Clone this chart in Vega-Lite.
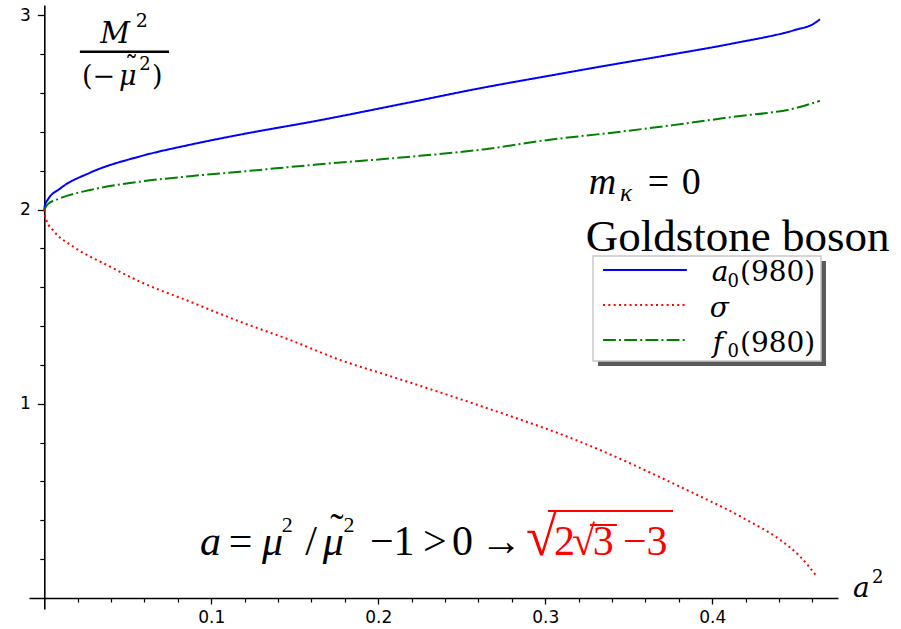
{
  "$schema": "https://vega.github.io/schema/vega-lite/v6.json",
  "width": 809,
  "height": 604,
  "autosize": "none",
  "padding": {"left": 29, "top": 5, "right": 63, "bottom": 20},
  "background": "white",
  "data": {"values": [{}]},
  "config": {
    "view": {"stroke": null},
    "text": {"align": "left", "baseline": "alphabetic", "color": "black"},
    "axis": {"grid": false, "title": null}
  },
  "datasets": {
    "curves": [
      {"series": "a0", "x": 0, "y": 2},
      {"series": "a0", "x": 0.0004, "y": 2.023},
      {"series": "a0", "x": 0.002, "y": 2.05},
      {"series": "a0", "x": 0.0094, "y": 2.108},
      {"series": "a0", "x": 0.0274, "y": 2.19},
      {"series": "a0", "x": 0.0573, "y": 2.274},
      {"series": "a0", "x": 0.0873, "y": 2.334},
      {"series": "a0", "x": 0.1172, "y": 2.386},
      {"series": "a0", "x": 0.163, "y": 2.457},
      {"series": "a0", "x": 0.2159, "y": 2.547},
      {"series": "a0", "x": 0.2628, "y": 2.628},
      {"series": "a0", "x": 0.3028, "y": 2.69},
      {"series": "a0", "x": 0.3389, "y": 2.745},
      {"series": "a0", "x": 0.3765, "y": 2.8},
      {"series": "a0", "x": 0.4126, "y": 2.856},
      {"series": "a0", "x": 0.4495, "y": 2.925},
      {"series": "a0", "x": 0.4603, "y": 2.955},
      {"series": "a0", "x": 0.4645, "y": 2.98},
      {"series": "sigma", "x": 0, "y": 2},
      {"series": "sigma", "x": 0.0004, "y": 1.97},
      {"series": "sigma", "x": 0.0015, "y": 1.94},
      {"series": "sigma", "x": 0.0054, "y": 1.892},
      {"series": "sigma", "x": 0.0174, "y": 1.809},
      {"series": "sigma", "x": 0.0374, "y": 1.715},
      {"series": "sigma", "x": 0.0573, "y": 1.629},
      {"series": "sigma", "x": 0.0873, "y": 1.526},
      {"series": "sigma", "x": 0.1172, "y": 1.423},
      {"series": "sigma", "x": 0.1471, "y": 1.329},
      {"series": "sigma", "x": 0.1771, "y": 1.226},
      {"series": "sigma", "x": 0.207, "y": 1.143},
      {"series": "sigma", "x": 0.2609, "y": 0.99},
      {"series": "sigma", "x": 0.3208, "y": 0.805},
      {"series": "sigma", "x": 0.3807, "y": 0.573},
      {"series": "sigma", "x": 0.4206, "y": 0.402},
      {"series": "sigma", "x": 0.4407, "y": 0.299},
      {"series": "sigma", "x": 0.4527, "y": 0.213},
      {"series": "sigma", "x": 0.4627, "y": 0.11},
      {"series": "f0", "x": 0, "y": 2},
      {"series": "f0", "x": 0.002, "y": 2.027},
      {"series": "f0", "x": 0.0094, "y": 2.058},
      {"series": "f0", "x": 0.0274, "y": 2.101},
      {"series": "f0", "x": 0.0573, "y": 2.144},
      {"series": "f0", "x": 0.0873, "y": 2.172},
      {"series": "f0", "x": 0.1172, "y": 2.195},
      {"series": "f0", "x": 0.163, "y": 2.232},
      {"series": "f0", "x": 0.2159, "y": 2.27},
      {"series": "f0", "x": 0.2628, "y": 2.31},
      {"series": "f0", "x": 0.3028, "y": 2.36},
      {"series": "f0", "x": 0.3389, "y": 2.395},
      {"series": "f0", "x": 0.3765, "y": 2.435},
      {"series": "f0", "x": 0.4126, "y": 2.478},
      {"series": "f0", "x": 0.4495, "y": 2.522},
      {"series": "f0", "x": 0.4645, "y": 2.56}
    ]
  },
  "resolve": {"axis": {"x": "independent", "y": "independent"}},
  "layer": [
    {
      "data": {"name": "curves"},
      "mark": {"type": "line", "strokeWidth": 2, "clip": false, "interpolate": "monotone"},
      "encoding": {
        "x": {"field": "x", "type": "quantitative",
              "scale": {"domain": [-0.00916, 0.4753], "nice": false, "zero": false},
              "axis": {"orient": "bottom", "offset": -11, "values": [0.1, 0.2, 0.3, 0.4], "format": ".1f",
                       "tickSize": 6, "tickWidth": 1.3, "tickColor": "#000", "domainColor": "#000", "domainWidth": 1.6,
                       "labelFont": "DejaVu Sans", "labelFontSize": 17, "labelColor": "#000", "labelPadding": 5,
                       "labelFlush": false, "labelOverlap": false}},
        "y": {"field": "y", "type": "quantitative",
              "scale": {"domain": [-0.0566, 3.0536], "nice": false, "zero": false},
              "axis": {"orient": "left", "offset": -15.3, "values": [1, 2, 3], "format": "d",
                       "tickSize": 7, "tickWidth": 1.3, "tickColor": "#000", "domainColor": "#000", "domainWidth": 1.6,
                       "labelFont": "DejaVu Sans", "labelFontSize": 17, "labelColor": "#000", "labelPadding": 7,
                       "labelOverlap": false}},
        "color": {"field": "series", "type": "nominal", "legend": null,
                  "scale": {"domain": ["a0", "sigma", "f0"], "range": ["#0000ff", "#ff0000", "#008000"]}},
        "strokeDash": {"field": "series", "type": "nominal", "legend": null,
                       "scale": {"domain": ["a0", "sigma", "f0"], "range": [[1, 0], [2, 3.3], [12.8, 3.2, 2, 3.2]]}}
      }
    },
    {
      "mark": {"type": "rect", "fill": "#5a5a5a"},
      "encoding": {
        "x": {"datum": 0.3316, "type": "quantitative",
              "axis": {"orient": "bottom", "offset": -11, "domain": false, "labels": false,
                       "values": [0.02, 0.04, 0.06, 0.08, 0.12, 0.14, 0.16, 0.18, 0.22, 0.24, 0.26, 0.28, 0.32, 0.34, 0.36, 0.38, 0.42, 0.44, 0.46],
                       "tickSize": 4, "tickWidth": 1.2, "tickColor": "#000"}},
        "x2": {"datum": 0.4681},
        "y": {"datum": 1.735, "type": "quantitative",
              "axis": {"orient": "left", "offset": -15.3, "domain": false, "labels": false,
                       "values": [0.2, 0.4, 0.6, 0.8, 1.2, 1.4, 1.6, 1.8, 2.2, 2.4, 2.6, 2.8],
                       "tickSize": 4.5, "tickWidth": 1.2, "tickColor": "#000"}},
        "y2": {"datum": 1.195}
      }
    },
    {
      "mark": {"type": "rect", "fill": "white", "stroke": "#c8c8c8", "strokeWidth": 1.5},
      "encoding": {
        "x": {"datum": 0.3286, "type": "quantitative", "axis": null},
        "x2": {"datum": 0.4651},
        "y": {"datum": 1.761, "type": "quantitative", "axis": null},
        "y2": {"datum": 1.22}
      }
    },
    {
      "mark": {"type": "rule", "stroke": "#0000ff", "strokeWidth": 2},
      "encoding": {
        "x": {"datum": 0.3346, "type": "quantitative", "axis": null},
        "x2": {"datum": 0.3848},
        "y": {"datum": 1.689, "type": "quantitative", "axis": null}
      }
    },
    {
      "mark": {"type": "rule", "stroke": "#ff0000", "strokeWidth": 2, "strokeDash": [2, 3.3]},
      "encoding": {
        "x": {"datum": 0.3346, "type": "quantitative", "axis": null},
        "x2": {"datum": 0.3848},
        "y": {"datum": 1.509, "type": "quantitative", "axis": null}
      }
    },
    {
      "mark": {"type": "rule", "stroke": "#008000", "strokeWidth": 2, "strokeDash": [12.8, 3.2, 2, 3.2]},
      "encoding": {
        "x": {"datum": 0.3346, "type": "quantitative", "axis": null},
        "x2": {"datum": 0.3848},
        "y": {"datum": 1.329, "type": "quantitative", "axis": null}
      }
    },
    {"mark": {"type": "text", "font": "DejaVu Serif", "text": "a", "fontSize": 28, "fontStyle": "italic"},
     "encoding": {"x": {"datum": 0.3997, "type": "quantitative", "axis": null}, "y": {"datum": 1.63, "type": "quantitative", "axis": null}}},
    {"mark": {"type": "text", "font": "DejaVu Serif", "text": "0", "fontSize": 18},
     "encoding": {"x": {"datum": 0.4092, "type": "quantitative", "axis": null}, "y": {"datum": 1.603, "type": "quantitative", "axis": null}}},
    {"mark": {"type": "text", "font": "DejaVu Serif", "text": "(980)", "fontSize": 28},
     "encoding": {"x": {"datum": 0.4166, "type": "quantitative", "axis": null}, "y": {"datum": 1.63, "type": "quantitative", "axis": null}}},
    {"mark": {"type": "text", "font": "DejaVu Serif", "text": "σ", "fontSize": 28, "fontStyle": "italic"},
     "encoding": {"x": {"datum": 0.3985, "type": "quantitative", "axis": null}, "y": {"datum": 1.449, "type": "quantitative", "axis": null}}},
    {"mark": {"type": "text", "font": "DejaVu Serif", "text": "f", "fontSize": 28, "fontStyle": "italic"},
     "encoding": {"x": {"datum": 0.4003, "type": "quantitative", "axis": null}, "y": {"datum": 1.268, "type": "quantitative", "axis": null}}},
    {"mark": {"type": "text", "font": "DejaVu Serif", "text": "0", "fontSize": 18},
     "encoding": {"x": {"datum": 0.4092, "type": "quantitative", "axis": null}, "y": {"datum": 1.241, "type": "quantitative", "axis": null}}},
    {"mark": {"type": "text", "font": "DejaVu Serif", "text": "(980)", "fontSize": 28},
     "encoding": {"x": {"datum": 0.4166, "type": "quantitative", "axis": null}, "y": {"datum": 1.268, "type": "quantitative", "axis": null}}},

    {"mark": {"type": "text", "font": "DejaVu Serif", "text": "M", "fontSize": 29, "fontStyle": "italic"},
     "encoding": {"x": {"datum": 0.0335, "type": "quantitative", "axis": null}, "y": {"datum": 2.858, "type": "quantitative", "axis": null}}},
    {"mark": {"type": "text", "font": "DejaVu Serif", "text": "2", "fontSize": 19},
     "encoding": {"x": {"datum": 0.0548, "type": "quantitative", "axis": null}, "y": {"datum": 2.94, "type": "quantitative", "axis": null}}},
    {"mark": {"type": "rule", "stroke": "black", "strokeWidth": 2.5},
     "encoding": {"x": {"datum": 0.0213, "type": "quantitative", "axis": null}, "x2": {"datum": 0.0747}, "y": {"datum": 2.813, "type": "quantitative", "axis": null}}},
    {"mark": {"type": "text", "font": "DejaVu Serif", "text": "(−", "fontSize": 27},
     "encoding": {"x": {"datum": 0.0226, "type": "quantitative", "axis": null}, "y": {"datum": 2.642, "type": "quantitative", "axis": null}}},
    {"mark": {"type": "text", "font": "DejaVu Serif", "text": "μ", "fontSize": 27, "fontStyle": "italic"},
     "encoding": {"x": {"datum": 0.0447, "type": "quantitative", "axis": null}, "y": {"datum": 2.642, "type": "quantitative", "axis": null}}},
    {"mark": {"type": "text", "font": "DejaVu Serif", "text": "˜", "fontSize": 27},
     "encoding": {"x": {"datum": 0.0482, "type": "quantitative", "axis": null}, "y": {"datum": 2.69, "type": "quantitative", "axis": null}}},
    {"mark": {"type": "text", "font": "DejaVu Serif", "text": "2", "fontSize": 18},
     "encoding": {"x": {"datum": 0.0568, "type": "quantitative", "axis": null}, "y": {"datum": 2.72, "type": "quantitative", "axis": null}}},
    {"mark": {"type": "text", "font": "DejaVu Serif", "text": ")", "fontSize": 27},
     "encoding": {"x": {"datum": 0.0645, "type": "quantitative", "axis": null}, "y": {"datum": 2.642, "type": "quantitative", "axis": null}}},

    {"mark": {"type": "text", "font": "Liberation Serif", "text": "m", "fontSize": 38, "fontStyle": "italic"},
     "encoding": {"x": {"datum": 0.3261, "type": "quantitative", "axis": null}, "y": {"datum": 2.08, "type": "quantitative", "axis": null}}},
    {"mark": {"type": "text", "font": "Liberation Serif", "text": "κ", "fontSize": 25, "fontStyle": "italic"},
     "encoding": {"x": {"datum": 0.3447, "type": "quantitative", "axis": null}, "y": {"datum": 2.044, "type": "quantitative", "axis": null}}},
    {"mark": {"type": "text", "font": "Liberation Serif", "text": "=", "fontSize": 38},
     "encoding": {"x": {"datum": 0.3614, "type": "quantitative", "axis": null}, "y": {"datum": 2.08, "type": "quantitative", "axis": null}}},
    {"mark": {"type": "text", "font": "Liberation Serif", "text": "0", "fontSize": 38},
     "encoding": {"x": {"datum": 0.3818, "type": "quantitative", "axis": null}, "y": {"datum": 2.08, "type": "quantitative", "axis": null}}},
    {"mark": {"type": "text", "font": "Liberation Serif", "text": "Goldstone boson", "fontSize": 45},
     "encoding": {"x": {"datum": 0.3243, "type": "quantitative", "axis": null}, "y": {"datum": 1.787, "type": "quantitative", "axis": null}}},

    {"mark": {"type": "text", "font": "DejaVu Serif", "text": "a", "fontSize": 28, "fontStyle": "italic"},
     "encoding": {"x": {"datum": 0.4843, "type": "quantitative", "axis": null}, "y": {"datum": 0.005, "type": "quantitative", "axis": null}}},
    {"mark": {"type": "text", "font": "DejaVu Serif", "text": "2", "fontSize": 18},
     "encoding": {"x": {"datum": 0.4957, "type": "quantitative", "axis": null}, "y": {"datum": 0.077, "type": "quantitative", "axis": null}}},

    {"mark": {"type": "text", "font": "Liberation Serif", "text": "a", "fontSize": 42, "fontStyle": "italic"},
     "encoding": {"x": {"datum": 0.0932, "type": "quantitative", "axis": null}, "y": {"datum": 0.2214, "type": "quantitative", "axis": null}}},
    {"mark": {"type": "text", "font": "Liberation Serif", "text": "=", "fontSize": 42},
     "encoding": {"x": {"datum": 0.1105, "type": "quantitative", "axis": null}, "y": {"datum": 0.2214, "type": "quantitative", "axis": null}}},
    {"mark": {"type": "text", "font": "Liberation Serif", "text": "μ", "fontSize": 42, "fontStyle": "italic"},
     "encoding": {"x": {"datum": 0.1304, "type": "quantitative", "axis": null}, "y": {"datum": 0.2214, "type": "quantitative", "axis": null}}},
    {"mark": {"type": "text", "font": "Liberation Serif", "text": "2", "fontSize": 22},
     "encoding": {"x": {"datum": 0.1422, "type": "quantitative", "axis": null}, "y": {"datum": 0.3414, "type": "quantitative", "axis": null}}},
    {"mark": {"type": "text", "font": "Liberation Serif", "text": "/", "fontSize": 42},
     "encoding": {"x": {"datum": 0.1562, "type": "quantitative", "axis": null}, "y": {"datum": 0.2214, "type": "quantitative", "axis": null}}},
    {"mark": {"type": "text", "font": "Liberation Serif", "text": "μ", "fontSize": 42, "fontStyle": "italic"},
     "encoding": {"x": {"datum": 0.1668, "type": "quantitative", "axis": null}, "y": {"datum": 0.2214, "type": "quantitative", "axis": null}}},
    {"mark": {"type": "text", "font": "Liberation Serif", "text": "˜", "fontSize": 40},
     "encoding": {"x": {"datum": 0.1712, "type": "quantitative", "axis": null}, "y": {"datum": 0.295, "type": "quantitative", "axis": null}}},
    {"mark": {"type": "text", "font": "Liberation Serif", "text": "2", "fontSize": 22},
     "encoding": {"x": {"datum": 0.1792, "type": "quantitative", "axis": null}, "y": {"datum": 0.3414, "type": "quantitative", "axis": null}}},
    {"mark": {"type": "text", "font": "Liberation Serif", "text": "−1", "fontSize": 42},
     "encoding": {"x": {"datum": 0.195, "type": "quantitative", "axis": null}, "y": {"datum": 0.2214, "type": "quantitative", "axis": null}}},
    {"mark": {"type": "text", "font": "Liberation Serif", "text": ">", "fontSize": 42},
     "encoding": {"x": {"datum": 0.2268, "type": "quantitative", "axis": null}, "y": {"datum": 0.2214, "type": "quantitative", "axis": null}}},
    {"mark": {"type": "text", "font": "Liberation Serif", "text": "0", "fontSize": 42},
     "encoding": {"x": {"datum": 0.2441, "type": "quantitative", "axis": null}, "y": {"datum": 0.2214, "type": "quantitative", "axis": null}}},
    {"mark": {"type": "text", "font": "Liberation Serif", "text": "→", "fontSize": 42},
     "encoding": {"x": {"datum": 0.2609, "type": "quantitative", "axis": null}, "y": {"datum": 0.2214, "type": "quantitative", "axis": null}}},
    {"mark": {"type": "text", "font": "Liberation Serif", "text": "√", "fontSize": 56, "color": "#ff0000"},
     "encoding": {"x": {"datum": 0.2885, "type": "quantitative", "axis": null}, "y": {"datum": 0.2214, "type": "quantitative", "axis": null}}},
    {"mark": {"type": "text", "font": "Liberation Serif", "text": "2", "fontSize": 42, "color": "#ff0000"},
     "encoding": {"x": {"datum": 0.3052, "type": "quantitative", "axis": null}, "y": {"datum": 0.2214, "type": "quantitative", "axis": null}}},
    {"mark": {"type": "text", "font": "Liberation Serif", "text": "√", "fontSize": 42, "color": "#ff0000"},
     "encoding": {"x": {"datum": 0.316, "type": "quantitative", "axis": null}, "y": {"datum": 0.2214, "type": "quantitative", "axis": null}}},
    {"mark": {"type": "text", "font": "Liberation Serif", "text": "3", "fontSize": 42, "color": "#ff0000"},
     "encoding": {"x": {"datum": 0.3285, "type": "quantitative", "axis": null}, "y": {"datum": 0.2214, "type": "quantitative", "axis": null}}},
    {"mark": {"type": "text", "font": "Liberation Serif", "text": "−3", "fontSize": 42, "color": "#ff0000"},
     "encoding": {"x": {"datum": 0.3465, "type": "quantitative", "axis": null}, "y": {"datum": 0.2214, "type": "quantitative", "axis": null}}},
    {"mark": {"type": "rule", "stroke": "#ff0000", "strokeWidth": 2},
     "encoding": {"x": {"datum": 0.3016, "type": "quantitative", "axis": null}, "x2": {"datum": 0.3765}, "y": {"datum": 0.448, "type": "quantitative", "axis": null}}},
    {"mark": {"type": "rule", "stroke": "#ff0000", "strokeWidth": 2},
     "encoding": {"x": {"datum": 0.3268, "type": "quantitative", "axis": null}, "x2": {"datum": 0.3429}, "y": {"datum": 0.3759, "type": "quantitative", "axis": null}}}
  ]
}
